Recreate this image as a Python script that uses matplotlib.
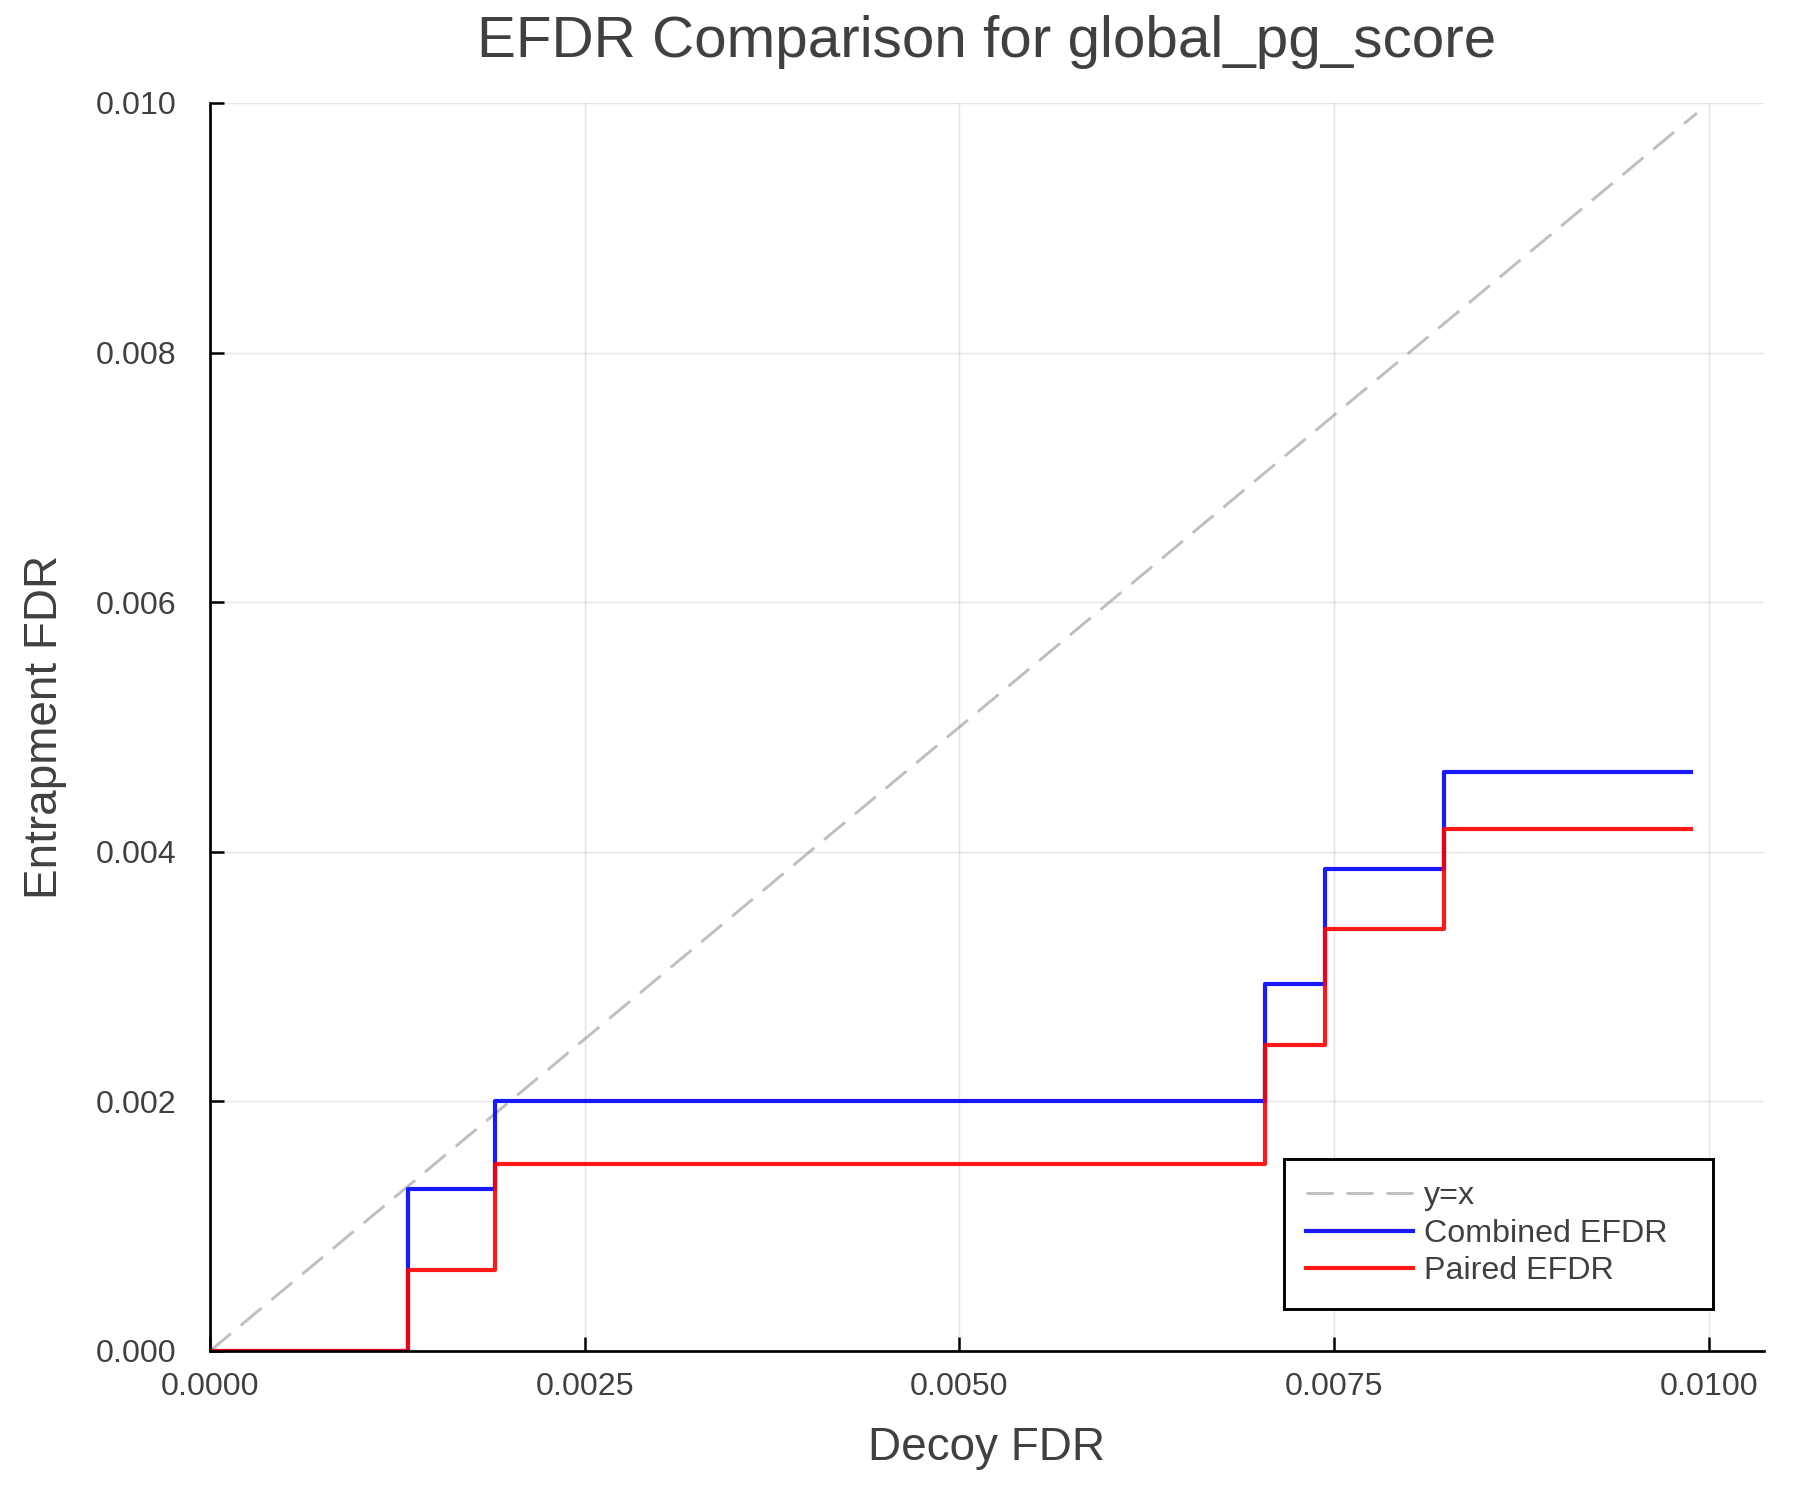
import matplotlib
matplotlib.use("Agg")
import matplotlib.pyplot as plt

plt.rcParams['font.family'] = ['Liberation Sans', 'DejaVu Sans']

# step data (steps are 'post')
decoy_fdr = [0.0, 0.00132, 0.0019, 0.00704, 0.00744, 0.00823, 0.00988]
combined_efdr = [0.0, 0.0013, 0.0020, 0.00294, 0.00386, 0.00464, 0.00464]
paired_efdr = [0.0, 0.00065, 0.0015, 0.00245, 0.00338, 0.00418, 0.00418]
diag = [0.0, 0.00992]

xticks = [0.0, 0.0025, 0.005, 0.0075, 0.01]
xticklabels = ['0.0000', '0.0025', '0.0050', '0.0075', '0.0100']
yticks = [0.0, 0.002, 0.004, 0.006, 0.008, 0.010]
yticklabels = ['0.000', '0.002', '0.004', '0.006', '0.008', '0.010']

txt = '#404040'

fig = plt.figure(figsize=(12, 10), dpi=150)
ax = fig.add_axes([210/1800, 1 - 1351/1500, (1764-210)/1800, (1351-103)/1500])

ax.plot(diag, diag, color='gray', alpha=0.5, lw=1.4,
        dashes=(9.3, 4.4), label='y=x')
ax.step(decoy_fdr, combined_efdr, where='post', color='blue', alpha=0.9,
        lw=2.0, label='Combined EFDR')
ax.step(decoy_fdr, paired_efdr, where='post', color='red', alpha=0.9,
        lw=2.0, label='Paired EFDR')

ax.set_xlim(0, 0.010367)
ax.set_ylim(0, 0.010)
ax.set_xticks(xticks)
ax.set_xticklabels(xticklabels)
ax.set_yticks(yticks)
ax.set_yticklabels(yticklabels)

ax.grid(True, color='black', alpha=0.1, lw=0.7)
ax.set_axisbelow(True)
for s in ['top', 'right']:
    ax.spines[s].set_visible(False)
for s in ['left', 'bottom']:
    ax.spines[s].set_linewidth(1.3)
ax.tick_params(direction='in', length=6.5, width=1.2, labelsize=15.5,
               labelcolor=txt, color='black')
ax.tick_params(axis='x', pad=10)
ax.tick_params(axis='y', pad=16)

fig.text(0.5 * (210 + 1764) / 1800, 1 - 57/1500,
         'EFDR Comparison for global_pg_score', ha='center', va='baseline',
         fontsize=28, color=txt)
fig.text(0.5 * (210 + 1764) / 1800, 0.035, 'Decoy FDR', ha='center',
         va='center', fontsize=22, color=txt)
fig.text(0.025, 1 - (0.5 * (103 + 1351)) / 1500, 'Entrapment FDR',
         ha='center', va='center', rotation=90, fontsize=22, color=txt)

leg = ax.legend(loc='lower left', bbox_to_anchor=(0.691, 0.0337, 0.276, 0.121),
                mode='expand', fontsize=15.5, frameon=True, fancybox=False,
                edgecolor='black', framealpha=1, borderpad=0.7,
                labelspacing=0.23, handlelength=3.3, handletextpad=0.33,
                borderaxespad=0)
leg.get_frame().set_linewidth(1.4)
for t in leg.get_texts():
    t.set_color(txt)

fig.savefig('out.png', dpi=150)
